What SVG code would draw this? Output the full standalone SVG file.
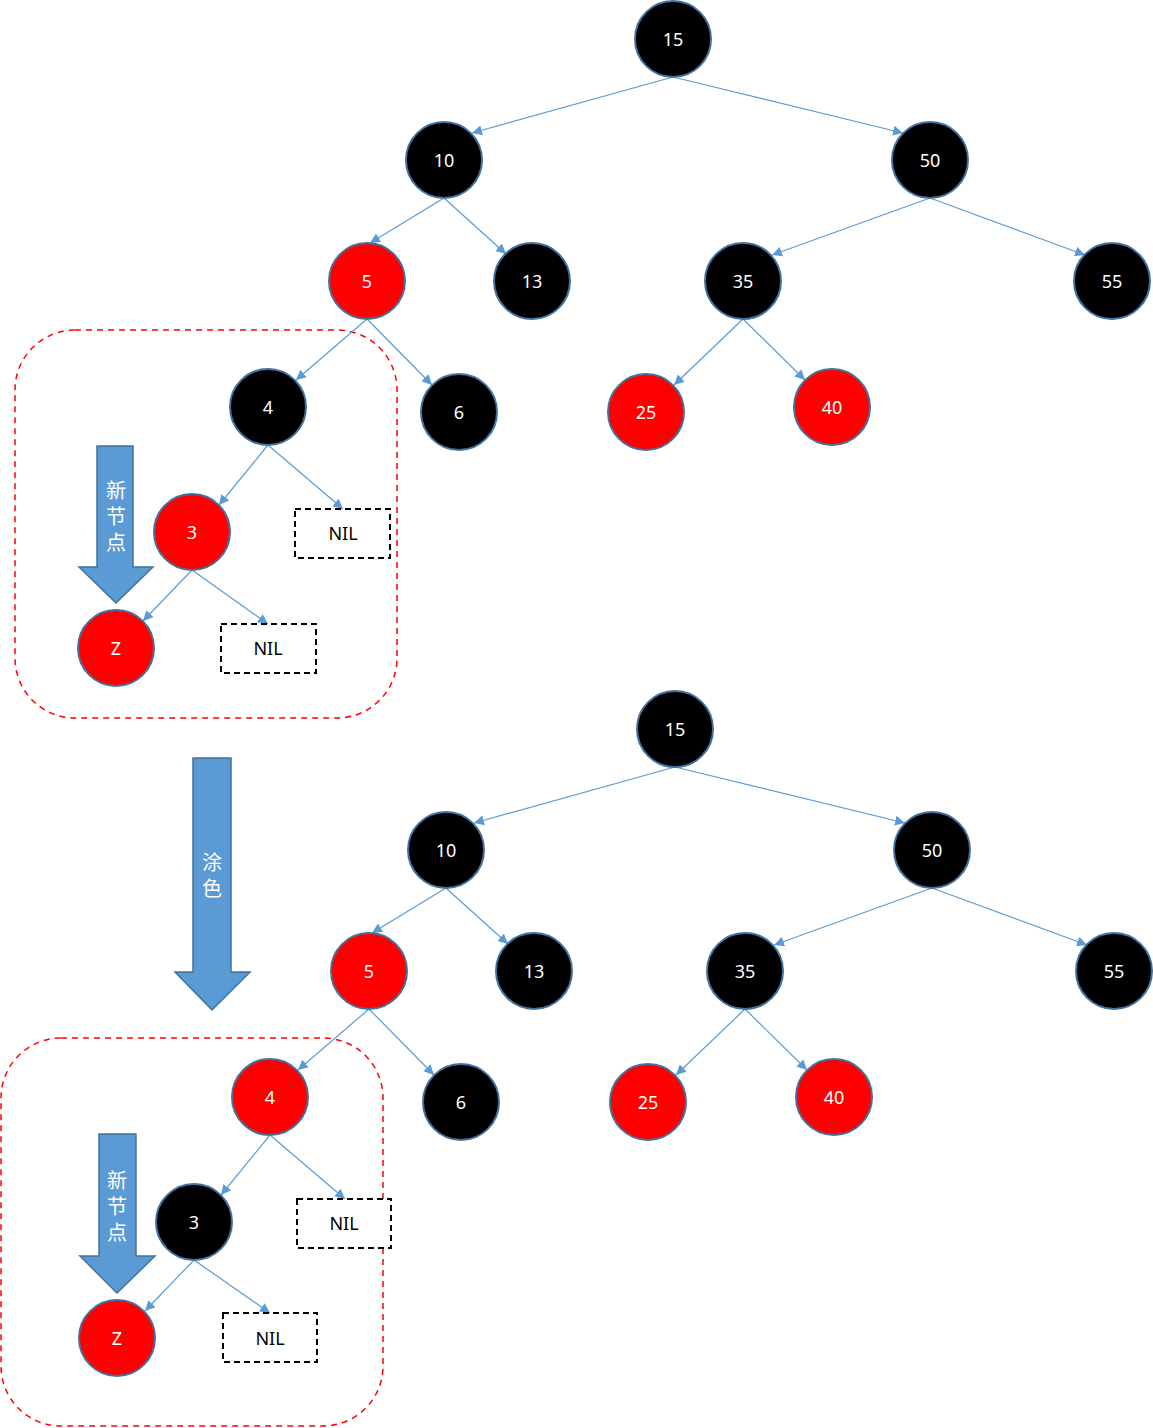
<svg xmlns="http://www.w3.org/2000/svg" width="1153" height="1428" viewBox="0 0 1153 1428">
<style>
.n circle{stroke:#41719C;stroke-width:2}
.b circle{fill:#000}
.r circle{fill:#FF0000}
.n text{fill:#fff;font-family:"Noto Sans","Liberation Sans",sans-serif;font-size:18px;text-anchor:middle;dominant-baseline:central}
.nil rect{fill:#fff;stroke:#000;stroke-width:2;stroke-dasharray:6 4}
.nil text{fill:#000;font-family:"Noto Sans","Liberation Sans",sans-serif;font-size:18px;text-anchor:middle;dominant-baseline:central}
.e line{stroke:#5B9BD5;stroke-width:1.2;marker-end:url(#ah)}
.grp{fill:none;stroke:#FF0000;stroke-width:1.5;stroke-dasharray:6 5}
.arr path{fill:#5B9BD5;stroke:#41719C;stroke-width:1.5}
.arr text{fill:#fff;font-family:"Noto Sans CJK SC",sans-serif;font-size:20px;text-anchor:middle;writing-mode:vertical-rl;letter-spacing:6px}
</style>
<defs>
<marker id="ah" viewBox="0 0 10 10" refX="10" refY="5" markerWidth="10" markerHeight="10" markerUnits="userSpaceOnUse" orient="auto">
<path d="M0,0 L10,5 L0,10 z" fill="#5B9BD5"/>
</marker>
</defs>

<g id="groups">
<rect class="grp" x="15" y="330" width="382" height="388" rx="60"/>
<rect class="grp" x="1" y="1038" width="382" height="388" rx="60"/>
</g>

<g id="connectors" class="e">
<line x1="673" y1="77" x2="472" y2="133"/>
<line x1="673" y1="77" x2="903" y2="133"/>
<line x1="444" y1="198" x2="370" y2="243"/>
<line x1="444" y1="198" x2="506" y2="254"/>
<line x1="930" y1="198" x2="772" y2="255"/>
<line x1="930" y1="198" x2="1085" y2="255"/>
<line x1="367" y1="319" x2="296" y2="380"/>
<line x1="367" y1="319" x2="432" y2="385"/>
<line x1="743" y1="319" x2="674" y2="385"/>
<line x1="743" y1="319" x2="805" y2="380"/>
<line x1="268" y1="445" x2="219" y2="505"/>
<line x1="268" y1="445" x2="343" y2="509"/>
<line x1="192" y1="570" x2="143" y2="621"/>
<line x1="192" y1="570" x2="268" y2="624"/>

<line x1="675" y1="767" x2="474" y2="823"/>
<line x1="675" y1="767" x2="905" y2="823"/>
<line x1="446" y1="888" x2="372" y2="933"/>
<line x1="446" y1="888" x2="508" y2="944"/>
<line x1="932" y1="888" x2="774" y2="945"/>
<line x1="932" y1="888" x2="1087" y2="945"/>
<line x1="369" y1="1009" x2="298" y2="1070"/>
<line x1="369" y1="1009" x2="434" y2="1075"/>
<line x1="745" y1="1009" x2="676" y2="1075"/>
<line x1="745" y1="1009" x2="807" y2="1070"/>
<line x1="270" y1="1135" x2="221" y2="1195"/>
<line x1="270" y1="1135" x2="345" y2="1199"/>
<line x1="194" y1="1260" x2="145" y2="1311"/>
<line x1="194" y1="1260" x2="270" y2="1313"/>
</g>

<g id="arrow-new1" class="arr">
<path d="M97,446 H133 V567 H153 L116,603 L79,567 H97 Z"/>
<text x="116" y="519">新节点</text>
</g>
<g id="arrow-color" class="arr">
<path d="M193,758 H231 V972 H250 L212,1010 L175,972 H193 Z"/>
<text x="212" y="878">涂色</text>
</g>
<g id="arrow-new2" class="arr">
<path d="M99,1134 H136 V1256 H155 L117,1293 L80,1256 H99 Z"/>
<text x="117" y="1209">新节点</text>
</g>

<g id="t1-15" class="n b"><circle cx="673" cy="39" r="38"/><text x="673" y="39">15</text></g>
<g id="t1-10" class="n b"><circle cx="444" cy="160" r="38"/><text x="444" y="160">10</text></g>
<g id="t1-50" class="n b"><circle cx="930" cy="160" r="38"/><text x="930" y="160">50</text></g>
<g id="t1-5" class="n r"><circle cx="367" cy="281" r="38"/><text x="367" y="281">5</text></g>
<g id="t1-13" class="n b"><circle cx="532" cy="281" r="38"/><text x="532" y="281">13</text></g>
<g id="t1-35" class="n b"><circle cx="743" cy="281" r="38"/><text x="743" y="281">35</text></g>
<g id="t1-55" class="n b"><circle cx="1112" cy="281" r="38"/><text x="1112" y="281">55</text></g>
<g id="t1-4" class="n b"><circle cx="268" cy="407" r="38"/><text x="268" y="407">4</text></g>
<g id="t1-6" class="n b"><circle cx="459" cy="412" r="38"/><text x="459" y="412">6</text></g>
<g id="t1-25" class="n r"><circle cx="646" cy="412" r="38"/><text x="646" y="412">25</text></g>
<g id="t1-40" class="n r"><circle cx="832" cy="407" r="38"/><text x="832" y="407">40</text></g>
<g id="t1-3" class="n r"><circle cx="192" cy="532" r="38"/><text x="192" y="532">3</text></g>
<g id="t1-nil1" class="nil"><rect x="295" y="509" width="95" height="49"/><text x="343" y="533">NIL</text></g>
<g id="t1-z" class="n r"><circle cx="116" cy="648" r="38"/><text x="116" y="648">Z</text></g>
<g id="t1-nil2" class="nil"><rect x="221" y="624" width="95" height="49"/><text x="268" y="648">NIL</text></g>

<g id="t2-15" class="n b"><circle cx="675" cy="729" r="38"/><text x="675" y="729">15</text></g>
<g id="t2-10" class="n b"><circle cx="446" cy="850" r="38"/><text x="446" y="850">10</text></g>
<g id="t2-50" class="n b"><circle cx="932" cy="850" r="38"/><text x="932" y="850">50</text></g>
<g id="t2-5" class="n r"><circle cx="369" cy="971" r="38"/><text x="369" y="971">5</text></g>
<g id="t2-13" class="n b"><circle cx="534" cy="971" r="38"/><text x="534" y="971">13</text></g>
<g id="t2-35" class="n b"><circle cx="745" cy="971" r="38"/><text x="745" y="971">35</text></g>
<g id="t2-55" class="n b"><circle cx="1114" cy="971" r="38"/><text x="1114" y="971">55</text></g>
<g id="t2-4" class="n r"><circle cx="270" cy="1097" r="38"/><text x="270" y="1097">4</text></g>
<g id="t2-6" class="n b"><circle cx="461" cy="1102" r="38"/><text x="461" y="1102">6</text></g>
<g id="t2-25" class="n r"><circle cx="648" cy="1102" r="38"/><text x="648" y="1102">25</text></g>
<g id="t2-40" class="n r"><circle cx="834" cy="1097" r="38"/><text x="834" y="1097">40</text></g>
<g id="t2-3" class="n b"><circle cx="194" cy="1222" r="38"/><text x="194" y="1222">3</text></g>
<g id="t2-nil1" class="nil"><rect x="297" y="1199" width="94" height="49"/><text x="344" y="1223">NIL</text></g>
<g id="t2-z" class="n r"><circle cx="117" cy="1338" r="38"/><text x="117" y="1338">Z</text></g>
<g id="t2-nil2" class="nil"><rect x="223" y="1313" width="94" height="49"/><text x="270" y="1338">NIL</text></g>
</svg>
